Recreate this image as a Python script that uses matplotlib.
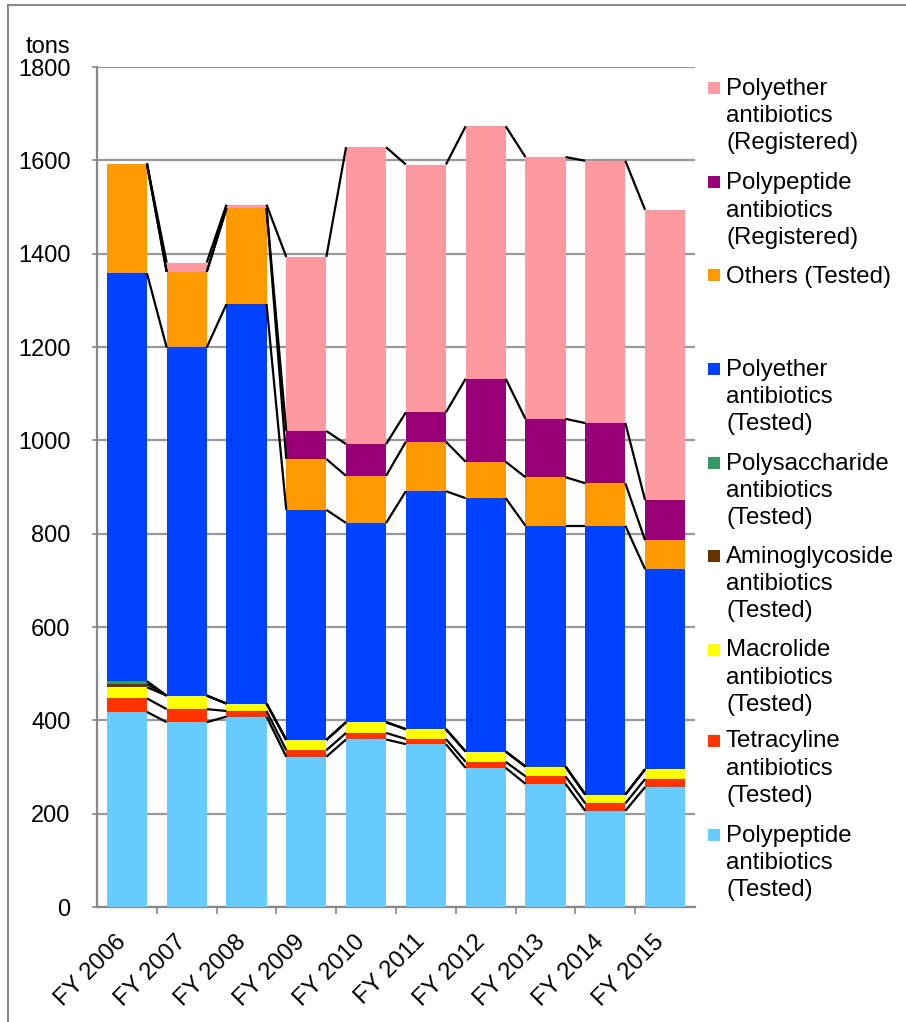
import matplotlib
matplotlib.use("Agg")
import matplotlib.pyplot as plt
from matplotlib.lines import Line2D
from matplotlib.patches import Rectangle
from matplotlib.transforms import ScaledTranslation
import numpy as np

plt.rcParams['font.family'] = ['Liberation Sans', 'DejaVu Sans']

categories = ["FY 2006", "FY 2007", "FY 2008", "FY 2009", "FY 2010",
              "FY 2011", "FY 2012", "FY 2013", "FY 2014", "FY 2015"]

# bottom to top
polypeptide_tested = [418, 396, 408, 322, 359, 349, 298, 264, 206, 257]
tetracycline_tested = [29, 28, 12, 14, 14, 11, 13, 16, 16, 17]
macrolide_tested = [24, 29, 16, 22, 23, 21, 22, 21, 19, 21]
aminoglycoside_tested = [7, 0, 0, 0, 0, 0, 0, 0, 0, 0]
polysaccharide_tested = [6, 0, 0, 0, 0, 0, 0, 0, 0, 0]
polyether_tested = [874, 746, 856, 493, 427, 510, 543, 516, 576, 429]
others_tested = [235, 162, 205, 109, 101, 106, 78, 104, 91, 62]
polypeptide_registered = [0, 0, 0, 60, 68, 63, 178, 125, 129, 86]
polyether_registered = [0, 20, 8, 373, 636, 531, 541, 561, 562, 622]

series = [
    ("Polypeptide\nantibiotics\n(Tested)", polypeptide_tested, "#66CCFF"),
    ("Tetracyline\nantibiotics\n(Tested)", tetracycline_tested, "#FF3300"),
    ("Macrolide\nantibiotics\n(Tested)", macrolide_tested, "#FFFF00"),
    ("Aminoglycoside\nantibiotics\n(Tested)", aminoglycoside_tested, "#663300"),
    ("Polysaccharide\nantibiotics\n(Tested)", polysaccharide_tested, "#339966"),
    ("Polyether\nantibiotics\n(Tested)", polyether_tested, "#0040FF"),
    ("Others (Tested)", others_tested, "#FF9900"),
    ("Polypeptide\nantibiotics\n(Registered)", polypeptide_registered, "#990077"),
    ("Polyether\nantibiotics\n(Registered)", polyether_registered, "#FF99A0"),
]

W, H = 906, 1022
fig = plt.figure(figsize=(W / 100, H / 100), dpi=100)
ax = fig.add_axes([97 / W, 1 - 907 / H, (695 - 97) / W, (907 - 67) / H])

x = np.arange(len(categories))
bw = 0.67
bottom = np.zeros(len(categories))
for label, vals, color in series:
    v = np.array(vals, dtype=float)
    ax.bar(x, v, bw, bottom=bottom, color=color, linewidth=0, zorder=3)
    bottom = bottom + v
    # series lines
    for i in range(len(categories) - 1):
        ax.plot([x[i] + bw / 2, x[i + 1] - bw / 2], [bottom[i], bottom[i + 1]],
                color="black", lw=1.6, zorder=4, solid_capstyle="butt")

ax.set_xlim(-0.5, len(categories) - 0.5)
ax.set_ylim(0, 1800)
ax.set_yticks(np.arange(0, 1801, 200))
ax.yaxis.grid(True, color="#999999", lw=1.6, zorder=0)
ax.set_axisbelow(True)

for s in ["top", "right"]:
    ax.spines[s].set_visible(False)
for s in ["left", "bottom"]:
    ax.spines[s].set_color("#888888")
    ax.spines[s].set_linewidth(1.6)

ax.tick_params(axis="y", length=3.6, width=1.2, color="#888888", pad=15.5,
               labelsize=17, direction="out")
ax.set_xticks(x)
ax.set_xticklabels(categories, rotation=45, ha="right", rotation_mode="anchor",
                   fontsize=17.3)
ax.tick_params(axis="x", which="major", length=0, pad=17)
shift = ScaledTranslation(-12 / 100, 0, fig.dpi_scale_trans)
for lab in ax.get_xticklabels():
    lab.set_transform(lab.get_transform() + shift)
ax.set_xticks(np.arange(0.5, len(categories) - 0.5, 1), minor=True)
ax.tick_params(axis="x", which="minor", length=5, width=1.2, color="#888888",
               direction="out")

fig.text(70 / W, 1 - 53 / H, "tons", ha="right", va="baseline", fontsize=17)

# legend (manual)
cap_tops = [80.7, 175, 268, 361, 455, 548, 642, 733, 827]
for (label, vals, color), ctop in zip(series[::-1], cap_tops):
    fig.patches.append(Rectangle((708 / W, 1 - (ctop + 13.5) / H), 12 / W, 12 / H,
                                 transform=fig.transFigure, facecolor=color,
                                 edgecolor="none"))
    fig.text(726 / W, 1 - (ctop - 2.5) / H, label, ha="left", va="top",
             fontsize=17.3, linespacing=1.3)

# outer border
fig.add_artist(Line2D([8 / W, 8 / W], [0, 1 - 5 / H], transform=fig.transFigure,
                      color="#888888", lw=1.5))
fig.add_artist(Line2D([8 / W, 1], [1 - 5 / H, 1 - 5 / H], transform=fig.transFigure,
                      color="#888888", lw=1.5))

fig.savefig("out.png", dpi=100)
